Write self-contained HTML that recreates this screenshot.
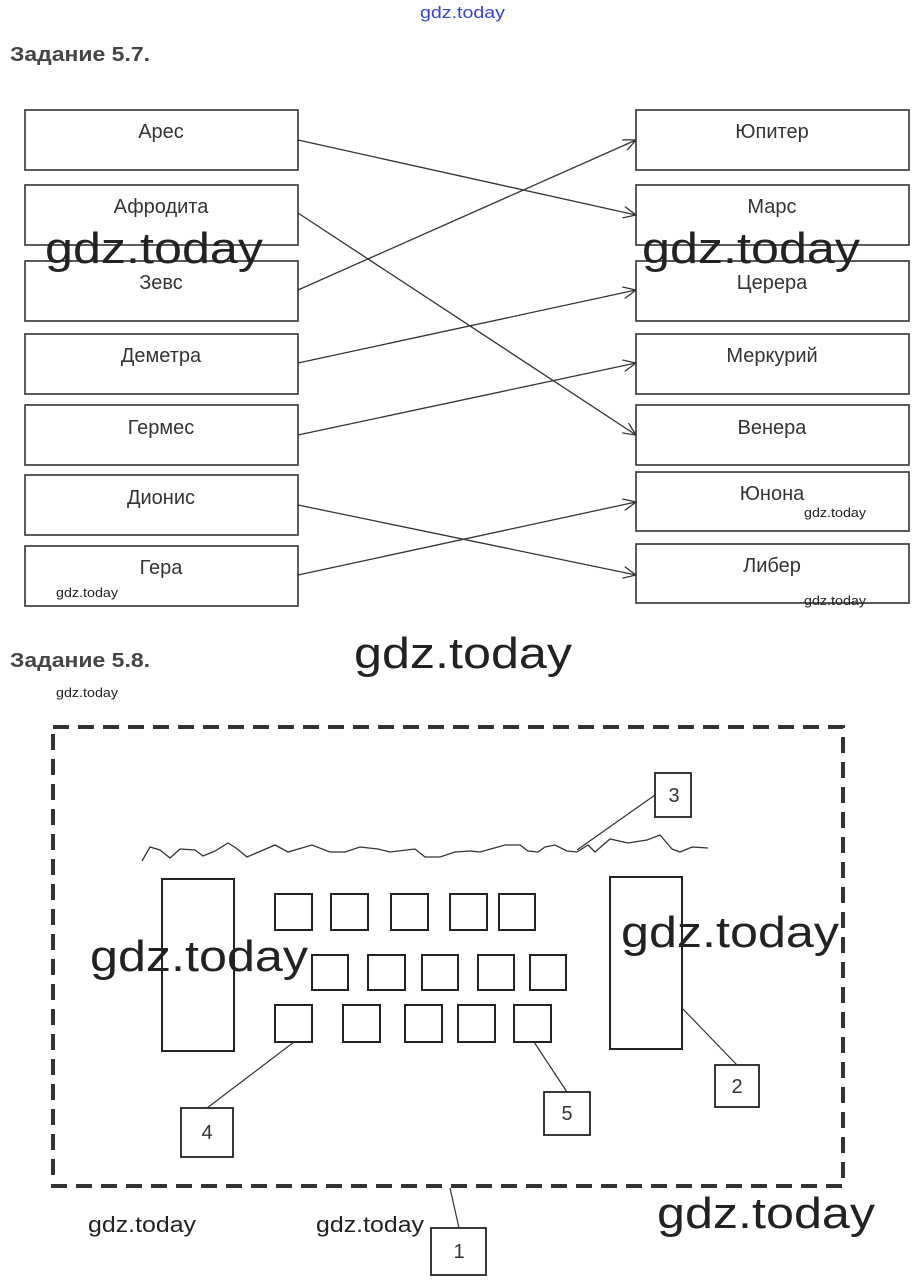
<!DOCTYPE html>
<html><head><meta charset="utf-8"><style>
body{margin:0;background:#fff;}
svg{display:block;}
</style></head><body>
<svg width="922" height="1288" xmlns="http://www.w3.org/2000/svg" font-family="Liberation Sans, sans-serif">
<defs><marker id="a" markerWidth="14" markerHeight="12" refX="13" refY="6" orient="auto" markerUnits="userSpaceOnUse"><path d="M0,0 L13,6 L0,12" fill="none" stroke="#333" stroke-width="1.3"/></marker></defs>
<text x="420" y="18" font-size="17" fill="#3344dd" textLength="85" lengthAdjust="spacingAndGlyphs">gdz.today</text>
<text x="10" y="61" font-size="20" font-weight="bold" fill="#444" textLength="140" lengthAdjust="spacingAndGlyphs">Задание 5.7.</text>
<g fill="none" stroke="#333" stroke-width="1.6">
<rect x="25" y="110" width="273" height="60"/><rect x="25" y="185" width="273" height="60"/><rect x="25" y="261" width="273" height="60"/><rect x="25" y="334" width="273" height="60"/><rect x="25" y="405" width="273" height="60"/><rect x="25" y="475" width="273" height="60"/><rect x="25" y="546" width="273" height="60"/>
<rect x="636" y="110" width="273" height="60"/><rect x="636" y="185" width="273" height="60"/><rect x="636" y="261" width="273" height="60"/><rect x="636" y="334" width="273" height="60"/><rect x="636" y="405" width="273" height="60"/><rect x="636" y="472" width="273" height="59"/><rect x="636" y="544" width="273" height="59"/>
</g>
<g stroke="#333" stroke-width="1.3" marker-end="url(#a)">
<line x1="298" y1="140" x2="636" y2="215"/><line x1="298" y1="213" x2="636" y2="435"/><line x1="298" y1="290" x2="636" y2="140"/><line x1="298" y1="363" x2="636" y2="290"/><line x1="298" y1="435" x2="636" y2="363"/><line x1="298" y1="505" x2="636" y2="575"/><line x1="298" y1="575" x2="636" y2="502"/>
</g>
<g font-size="20" fill="#333" text-anchor="middle">
<text x="161" y="138">Арес</text><text x="161" y="213">Афродита</text><text x="161" y="289">Зевс</text><text x="161" y="362">Деметра</text><text x="161" y="434">Гермес</text><text x="161" y="504">Дионис</text><text x="161" y="574">Гера</text>
<text x="772" y="138">Юпитер</text><text x="772" y="213">Марс</text><text x="772" y="289">Церера</text><text x="772" y="362">Меркурий</text><text x="772" y="434">Венера</text><text x="772" y="500">Юнона</text><text x="772" y="572">Либер</text>
</g>
<g fill="#222" lengthAdjust="spacingAndGlyphs">
<text x="45" y="263" font-size="44" textLength="218" lengthAdjust="spacingAndGlyphs">gdz.today</text><text x="642" y="263" font-size="44" textLength="218" lengthAdjust="spacingAndGlyphs">gdz.today</text>
<text x="354" y="668" font-size="44" textLength="218" lengthAdjust="spacingAndGlyphs">gdz.today</text>
<text x="90" y="971" font-size="44" textLength="218" lengthAdjust="spacingAndGlyphs">gdz.today</text><text x="621" y="947" font-size="44" textLength="218" lengthAdjust="spacingAndGlyphs">gdz.today</text>
<text x="657" y="1228" font-size="44" textLength="218" lengthAdjust="spacingAndGlyphs">gdz.today</text>
<text x="88" y="1232" font-size="22" textLength="108" lengthAdjust="spacingAndGlyphs">gdz.today</text><text x="316" y="1232" font-size="22" textLength="108" lengthAdjust="spacingAndGlyphs">gdz.today</text>
<text x="56" y="597" font-size="13" textLength="62" lengthAdjust="spacingAndGlyphs">gdz.today</text><text x="804" y="517" font-size="13" textLength="62" lengthAdjust="spacingAndGlyphs">gdz.today</text><text x="804" y="605" font-size="13" textLength="62" lengthAdjust="spacingAndGlyphs">gdz.today</text><text x="56" y="697" font-size="13" textLength="62" lengthAdjust="spacingAndGlyphs">gdz.today</text>
</g>
<text x="10" y="667" font-size="20" font-weight="bold" fill="#444" textLength="140" lengthAdjust="spacingAndGlyphs">Задание 5.8.</text>
<rect x="53" y="727" width="790" height="459" fill="none" stroke="#333" stroke-width="4" stroke-dasharray="16,9"/>
<path d="M142,861 L150,847 L160,850 L170,858 L180,849 L195,850 L203,856 L215,851 L228,843 L236,848 L247,857 L275,845 L288,852 L312,845 L330,852 L345,852 L360,847 L378,849 L390,852 L415,849 L425,857 L440,857 L455,852 L470,851 L480,852 L505,845 L520,845 L528,851 L538,852 L545,847 L555,845 L567,851 L577,852 L588,845 L595,852 L610,839 L628,843 L647,840 L660,835 L672,849 L680,852 L692,847 L708,848" fill="none" stroke="#333" stroke-width="1.3"/>
<g fill="none" stroke="#222" stroke-width="2">
<rect x="162" y="879" width="72" height="172"/><rect x="610" y="877" width="72" height="172"/>
<rect x="275" y="894" width="37" height="36"/><rect x="331" y="894" width="37" height="36"/><rect x="391" y="894" width="37" height="36"/><rect x="450" y="894" width="37" height="36"/><rect x="499" y="894" width="36" height="36"/>
<rect x="312" y="955" width="36" height="35"/><rect x="368" y="955" width="37" height="35"/><rect x="422" y="955" width="36" height="35"/><rect x="478" y="955" width="36" height="35"/><rect x="530" y="955" width="36" height="35"/>
<rect x="275" y="1005" width="37" height="37"/><rect x="343" y="1005" width="37" height="37"/><rect x="405" y="1005" width="37" height="37"/><rect x="458" y="1005" width="37" height="37"/><rect x="514" y="1005" width="37" height="37"/>
</g>
<g fill="none" stroke="#222" stroke-width="1.8">
<rect x="655" y="773" width="36" height="44"/><rect x="715" y="1065" width="44" height="42"/><rect x="544" y="1092" width="46" height="43"/><rect x="181" y="1108" width="52" height="49"/><rect x="431" y="1228" width="55" height="47"/>
</g>
<g stroke="#333" stroke-width="1.2">
<line x1="655" y1="795" x2="577" y2="850"/><line x1="682" y1="1008" x2="737" y2="1065"/><line x1="534" y1="1042" x2="567" y2="1092"/><line x1="294" y1="1042" x2="207" y2="1108"/><line x1="450" y1="1188" x2="459" y2="1228"/>
</g>
<g font-size="20" fill="#333" text-anchor="middle">
<text x="674" y="802">3</text><text x="737" y="1093">2</text><text x="567" y="1120">5</text><text x="207" y="1139">4</text><text x="459" y="1258">1</text>
</g>
</svg>
</body></html>
